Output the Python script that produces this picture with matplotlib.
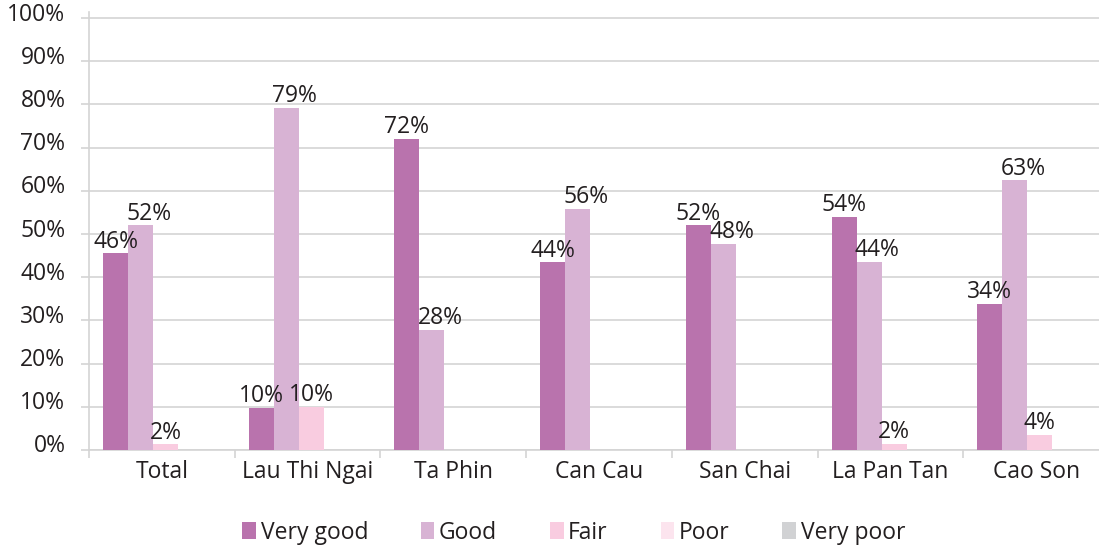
import numpy as np
import matplotlib.pyplot as plt
from matplotlib.patches import Patch
from matplotlib.ticker import FixedLocator
from matplotlib.transforms import ScaledTranslation

plt.rcParams['font.family'] = ['Open Sans', 'DejaVu Sans']

# data
communes = ['Total', 'Lau Thi Ngai', 'Ta Phin', 'Can Cau', 'San Chai', 'La Pan Tan', 'Cao Son']
series = ['Very good', 'Good', 'Fair', 'Poor', 'Very poor']
very_good = [45.5, 9.8, 72.0, 43.5, 52.0, 54.0, 33.8]
good = [52.0, 79.2, 27.8, 55.8, 47.8, 43.6, 62.4]
fair = [1.3, 10.0, 0, 0, 0, 1.5, 3.5]
poor = [0, 0, 0, 0, 0, 0, 0]
very_poor = [0, 0, 0, 0, 0, 0, 0]
labels_vg = ['46%', '10%', '72%', '44%', '52%', '54%', '34%']
labels_good = ['52%', '79%', '28%', '56%', '48%', '44%', '63%']
labels_fair = ['2%', '10%', '', '', '', '2%', '4%']

colors = ['#B973AD', '#D8B3D4', '#F9CCE0', '#FCE4EE', '#D1D2D4']
txt = '#231F20'
grid_c = '#D4D4D4'
fs = 16.5

values = [very_good, good, fair, poor, very_poor]
labels = [labels_vg, labels_good, labels_fair, None, None]
# the "Good" labels sit a little to the right of their bars
label_dx = [0, 6, 0, 0, 0]

fig = plt.figure(figsize=(10.99, 5.49), dpi=100)
ax = fig.add_axes([89 / 1099, 1 - 450 / 549, 1020 / 1099, 438 / 549])

x = np.arange(len(communes))
w = 0.1716
for i, (vals, c) in enumerate(zip(values, colors)):
    pos = x - 0.318 + i * w
    ax.bar(pos, vals, width=w, color=c, zorder=3)
    if labels[i] is not None:
        for p, v, lab in zip(pos, vals, labels[i]):
            if lab:
                ax.annotate(lab, (p, v), xytext=(label_dx[i], 4), textcoords='offset points',
                            ha='center', va='baseline', fontsize=fs, color=txt, zorder=4)

ax.set_xlim(-0.5, len(communes) - 0.5)
ax.set_ylim(0, 101.4)
ax.set_yticks(np.arange(0, 101, 10))
ax.set_yticklabels([f'{v}%' for v in range(0, 101, 10)])
ax.yaxis.grid(True, color=grid_c, lw=1.2, zorder=0)

ax.set_xticks(x)
ax.set_xticklabels(communes)
ax.xaxis.set_minor_locator(FixedLocator(np.arange(-0.5, len(communes), 1)))
ax.tick_params(axis='x', which='major', length=0, pad=7, labelsize=fs, labelcolor=txt)
ax.tick_params(axis='x', which='minor', length=6, width=1.2, color=grid_c, direction='out')
ax.tick_params(axis='y', length=6, width=1.2, color=grid_c, pad=11, labelsize=fs, labelcolor=txt)

# y labels sit a bit above their gridlines
off = ScaledTranslation(0, -0.025, fig.dpi_scale_trans)
for t in ax.get_yticklabels():
    t.set_verticalalignment('baseline')
    t.set_transform(t.get_transform() + off)

for s in ['top', 'right']:
    ax.spines[s].set_visible(False)
ax.spines['left'].set_color(grid_c)
ax.spines['bottom'].set_color(grid_c)
ax.spines['left'].set_linewidth(1.2)
ax.spines['bottom'].set_linewidth(1.2)

handles = [Patch(facecolor=c, label=s) for c, s in zip(colors, series)]
leg = fig.legend(handles=handles, ncol=5, loc='center', bbox_to_anchor=(0.522, 0.03),
                 frameon=False, fontsize=fs, handlelength=0.6, handleheight=0.8,
                 handletextpad=0.2, columnspacing=2.3)
for t in leg.get_texts():
    t.set_color(txt)

fig.savefig('out.png', dpi=100)
